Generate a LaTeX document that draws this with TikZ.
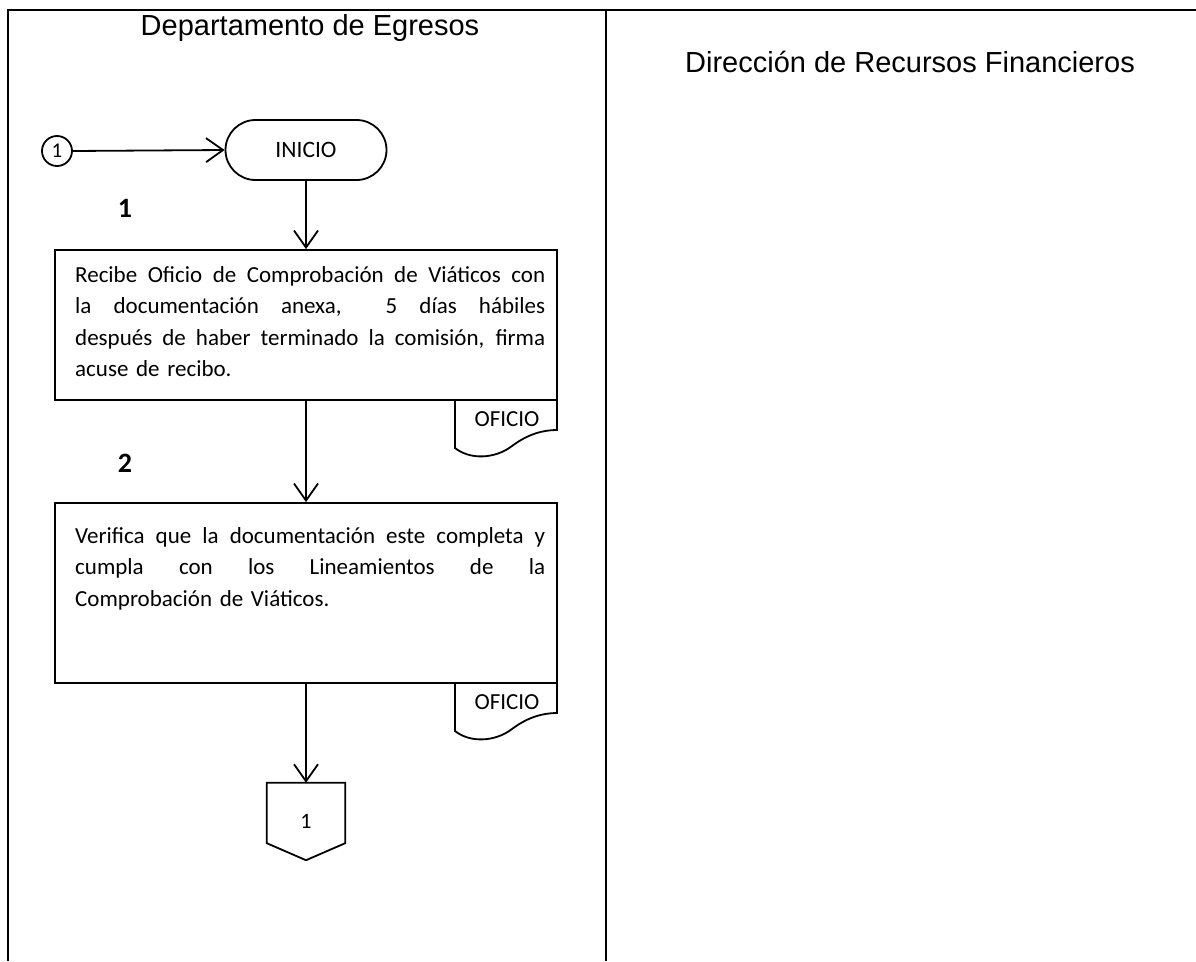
\documentclass[tikz,border=0pt]{standalone}
\usepackage{fontspec}
\setmainfont{Carlito}
\newfontfamily\arialfont{Liberation Sans}
\usetikzlibrary{arrows.meta}

% one justified line: the spaces share the spare width
\newcommand\fullline[1]{\makebox[470pt][s]{\spaceskip=0.24em plus 1fil\relax #1}}

\begin{document}
\begin{tikzpicture}[x=1pt,y=-1pt,
  frame/.style={line width=1.4pt},
  shapeline/.style={line width=1.8pt},
  flow/.style={line width=1.8pt, -{Straight Barb[length=17pt,width=24pt,line width=1.8pt]}},
  header/.style={font=\arialfont\fontsize{29}{33}\selectfont, anchor=base, inner sep=0pt},
  body/.style={font=\fontsize{23}{31.5}\selectfont, anchor=north west, inner sep=0pt, text width=470pt, align=left},
  steplabel/.style={font=\bfseries\fontsize{28}{32}\selectfont, anchor=base, inner sep=0pt},
  small/.style={font=\fontsize{23}{26}\selectfont},
  procbox/.style={draw, shapeline, minimum width=502pt, inner sep=0pt},
]
\useasboundingbox (0,0) rectangle (1196,961);

% swimlane frame
\draw[frame] (8,961) -- (8,10) -- (1196,10);
\draw[frame] (606,10) -- (606,961);

% lane headers
\node[header] (h1) at (310,35) {Departamento de Egresos};
\node[header] (h2) at (910,72) {Dirección de Recursos Financieros};

% entry connector and start terminal
\node[draw, circle, line width=1.8pt, minimum size=30pt, inner sep=0pt, font=\fontsize{21}{24}\selectfont] (c0) at (57,151) {1};
\node[draw, shapeline, rounded corners=30pt, minimum width=161pt, minimum height=60pt, font=\fontsize{23.5}{27}\selectfont] (inicio) at (306,150) {INICIO};
\draw[flow] (c0.east) -- (inicio.west);

% step 1
\node[steplabel] (s1) at (125,217) {1};
\node[procbox, minimum height=150pt] (b1) at (306,325) {};
\node[body] (t1) at (75,260) {\strut\fullline{Recibe Oficio de Comprobación de Viáticos con}\\
\fullline{la documentación anexa,~~5 días hábiles}\\
\fullline{después de haber terminado la comisión, firma}\\
acuse de recibo.};
\draw[flow] (inicio.south) -- (b1.north);

% document attached to step 1
\node[small, anchor=base, inner sep=0pt] (d1) at (507,426) {OFICIO};
\draw[shapeline] (455,400) -- (455,448) .. controls (470,460) and (495,459) .. (512,446)
  .. controls (528,434) and (543,430) .. (557,430) -- (557,400);

% step 2
\node[steplabel] (s2) at (125,472) {2};
\node[procbox, minimum height=180pt] (b2) at (306,593) {};
\node[body] (t2) at (75,521) {\strut\fullline{Verifica que la documentación este completa y}\\
\fullline{cumpla con los Lineamientos de la}\\
Comprobación de Viáticos.};
\draw[flow] (b1.south) -- (b2.north);

% document attached to step 2
\node[small, anchor=base, inner sep=0pt] (d2) at (507,709) {OFICIO};
\draw[shapeline] (455,683) -- (455,731) .. controls (470,743) and (495,742) .. (512,729)
  .. controls (528,717) and (543,713) .. (557,713) -- (557,683);

% off-page connector
\node[minimum width=78pt, minimum height=77pt, inner sep=0pt, font=\fontsize{22}{25}\selectfont] (off) at (306,821.5) {1};
\draw[shapeline] (off.north west) -- (off.north east) -- ([yshift=17pt]off.south east)
  -- (off.south) -- ([yshift=17pt]off.south west) -- cycle;
\draw[flow] (b2.south) -- (off.north);
\end{tikzpicture}
\end{document}
